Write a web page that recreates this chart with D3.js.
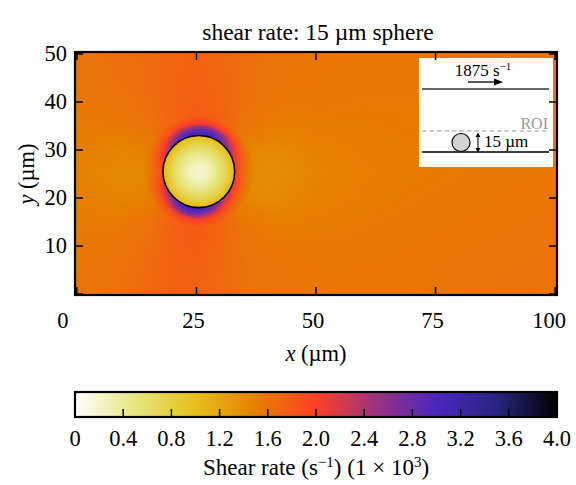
<!DOCTYPE html>
<html><head><meta charset="utf-8">
<script src="https://cdn.jsdelivr.net/npm/d3@7"></script>
<style>body{margin:0;background:#fff}svg text{font-family:"Liberation Serif","Times New Roman",serif;fill:#000}</style>
</head><body><svg id="c" width="576" height="485"></svg>
<script>
// ---- data ----
const xTicks = [0, 25, 50, 75, 100];
const yTicks = [10, 20, 30, 40, 50];
const cbTicks = [0, 0.4, 0.8, 1.2, 1.6, 2.0, 2.4, 2.8, 3.2, 3.6, 4.0];
const cbTickLabels = ["0","0.4","0.8","1.2","1.6","2.0","2.4","2.8","3.2","3.6","4.0"];
// CMRmap_r colormap nodes (value in 10^3 s^-1)
const cmapVals = [0, 0.5, 1.0, 1.5, 2.0, 2.5, 3.0, 3.5, 4.0];
const cmapCols = ["rgb(255,255,255)","rgb(230,230,128)","rgb(230,191,26)","rgb(230,128,0)","rgb(255,64,38)","rgb(153,51,128)","rgb(77,38,191)","rgb(38,38,128)","rgb(0,0,0)"];
// sphere (µm)
const sphereX = 25.5, sphereY = 25.5, sphereR = 7.5;
// background field: shear rate (10^3 s^-1) on grid
const bgX = [0,5,10,15,20,25,30,35,40,45,50,60,70,80,90,100];
const bgY = [50,45,40,35,30,25,20,15,10,5,0];
const bgV = [
 [1.61,1.62,1.64,1.67,1.71,1.73,1.70,1.65,1.61,1.59,1.58,1.57,1.57,1.57,1.57,1.57],
 [1.60,1.61,1.63,1.67,1.72,1.74,1.71,1.65,1.60,1.58,1.57,1.56,1.56,1.56,1.56,1.56],
 [1.58,1.58,1.60,1.65,1.72,1.76,1.72,1.64,1.58,1.56,1.56,1.55,1.55,1.56,1.56,1.56],
 [1.55,1.55,1.56,1.61,1.72,1.80,1.74,1.60,1.53,1.52,1.54,1.54,1.55,1.55,1.56,1.56],
 [1.52,1.49,1.47,1.51,1.62,1.75,1.62,1.48,1.44,1.46,1.50,1.53,1.54,1.55,1.56,1.56],
 [1.50,1.46,1.44,1.45,1.55,1.60,1.55,1.44,1.41,1.43,1.48,1.52,1.54,1.55,1.56,1.57],
 [1.52,1.49,1.47,1.50,1.62,1.75,1.62,1.47,1.43,1.46,1.50,1.53,1.55,1.56,1.57,1.58],
 [1.55,1.54,1.55,1.61,1.74,1.80,1.72,1.57,1.52,1.52,1.53,1.55,1.56,1.57,1.58,1.59],
 [1.57,1.57,1.59,1.65,1.75,1.77,1.70,1.61,1.57,1.56,1.56,1.56,1.57,1.58,1.59,1.60],
 [1.58,1.59,1.62,1.68,1.74,1.75,1.69,1.62,1.59,1.58,1.57,1.57,1.58,1.59,1.60,1.60],
 [1.59,1.60,1.63,1.69,1.74,1.74,1.68,1.62,1.60,1.59,1.58,1.58,1.58,1.59,1.60,1.60]
];
// inside sphere: radial profile
const inR = [0, 1, 2, 3, 4, 5, 6, 7, 7.5];
const inV = [0.20, 0.22, 0.28, 0.38, 0.50, 0.64, 0.80, 0.98, 1.08];
// halo just outside sphere: angle (deg, CCW from +x) x distance from surface (µm)
const ringA = [0,15,30,45,60,75,90,105,120,135,150,165,180,195,210,225,240,255,270,285,300,315,330,345];
const ringD = [0, 0.75, 1.5, 2.5];
const ringFade = 4.0;
const ringV = [
 [2.00,1.88,1.75,1.60],[2.10,1.98,1.85,1.68],[2.35,2.20,2.00,1.78],[2.70,2.50,2.25,1.88],
 [3.00,2.85,2.50,1.98],[3.15,3.00,2.70,2.05],[3.15,3.00,2.70,2.05],[3.10,2.95,2.60,2.02],
 [2.95,2.75,2.40,1.95],[2.65,2.45,2.15,1.85],[2.30,2.12,1.95,1.75],[2.05,1.92,1.80,1.65],
 [1.95,1.85,1.72,1.58],[2.05,1.92,1.80,1.65],[2.35,2.18,1.98,1.76],[2.70,2.50,2.22,1.86],
 [3.00,2.85,2.50,1.98],[3.15,3.00,2.70,2.05],[3.12,2.98,2.65,2.03],[2.95,2.78,2.42,1.95],
 [2.65,2.45,2.15,1.85],[2.35,2.15,1.95,1.75],[2.15,2.00,1.85,1.68],[2.05,1.92,1.80,1.62]
];

// ---- layout ----
const L = 75, R = 557, T = 52, B = 295;
const x = d3.scaleLinear().domain([-0.4, 100.4]).range([L, R]);
const y = d3.scaleLinear().domain([-0.2, 50.4]).range([B, T]);
const color = d3.scaleLinear().domain(cmapVals).range(cmapCols).interpolate(d3.interpolateRgb).clamp(true);
const svg = d3.select("#c");
svg.append("rect").attr("width",576).attr("height",485).attr("fill","#fff");

// ---- field rendering (piecewise-linear reading of the grids) ----
function lin(arr, v) {
  if (v <= arr[0]) return [0, 0];
  for (let i = 0; i < arr.length - 1; i++) if (v <= arr[i+1]) return [i, (v-arr[i])/(arr[i+1]-arr[i])];
  return [arr.length-2, 1];
}
const bgYasc = bgY.slice().reverse();
const bgVasc = bgV.slice().reverse();
function bgAt(ux, uy) {
  const [i, tx] = lin(bgX, ux), [j, ty] = lin(bgYasc, uy);
  const a = bgVasc[j][i], b = bgVasc[j][i+1], c = bgVasc[j+1][i], d = bgVasc[j+1][i+1];
  return (a*(1-tx)+b*tx)*(1-ty) + (c*(1-tx)+d*tx)*ty;
}
function ringAt(ang, dd) {
  const n = ringA.length, step = 360/n;
  const i0 = Math.floor(ang/step) % n, i1 = (i0+1) % n, ta = ang/step - Math.floor(ang/step);
  const [k, td] = lin(ringD, dd);
  const v0 = ringV[i0][k]*(1-td) + ringV[i0][k+1]*td;
  const v1 = ringV[i1][k]*(1-td) + ringV[i1][k+1]*td;
  return v0*(1-ta) + v1*ta;
}
const W = R - L, H = B - T;
const cv = document.createElement("canvas"); cv.width = W; cv.height = H;
const ctx = cv.getContext("2d");
const img = ctx.createImageData(W, H);
const rgbCache = new Map();
for (let j = 0; j < H; j++) {
  for (let i = 0; i < W; i++) {
    const ux = x.invert(L + i + 0.5), uy = y.invert(T + j + 0.5);
    const dx = ux - sphereX, dy = uy - sphereY, r = Math.hypot(dx, dy);
    let v;
    if (r < sphereR) {
      const [k, t] = lin(inR, r); v = inV[k]*(1-t) + inV[k+1]*t;
    } else {
      const dd = r - sphereR;
      let ang = Math.atan2(dy, dx) * 180 / Math.PI; if (ang < 0) ang += 360;
      if (dd <= ringD[ringD.length-1]) v = ringAt(ang, dd);
      else if (dd < ringFade) {
        const t = (dd - ringD[ringD.length-1]) / (ringFade - ringD[ringD.length-1]);
        v = ringAt(ang, ringD[ringD.length-1])*(1-t) + bgAt(ux, uy)*t;
      } else v = bgAt(ux, uy);
    }
    const key = Math.round(v*500);
    let c = rgbCache.get(key);
    if (!c) { c = d3.rgb(color(key/500)); rgbCache.set(key, c); }
    const p = (j*W + i)*4;
    img.data[p] = c.r; img.data[p+1] = c.g; img.data[p+2] = c.b; img.data[p+3] = 255;
  }
}
ctx.putImageData(img, 0, 0);
svg.append("image").attr("x", L).attr("y", T).attr("width", W).attr("height", H)
  .attr("href", cv.toDataURL());

// sphere outline
svg.append("ellipse").attr("cx", x(sphereX)).attr("cy", y(sphereY))
  .attr("rx", x(sphereX+sphereR)-x(sphereX)).attr("ry", y(sphereY)-y(sphereY+sphereR))
  .attr("fill","none").attr("stroke","#000").attr("stroke-width",1.6);

// ---- inset schematic ----
const ins = svg.append("g");
ins.append("rect").attr("x",419).attr("y",58).attr("width",134).attr("height",109).attr("fill","#fff");
ins.append("line").attr("x1",422).attr("x2",549).attr("y1",89).attr("y2",89).attr("stroke","#333").attr("stroke-width",1.3);
ins.append("line").attr("x1",422).attr("x2",549).attr("y1",152).attr("y2",152).attr("stroke","#000").attr("stroke-width",1.3);
ins.append("line").attr("x1",422).attr("x2",549).attr("y1",131).attr("y2",131).attr("stroke","#999").attr("stroke-width",1.2).attr("stroke-dasharray","4.5,3");
const t1 = ins.append("text").attr("x",483).attr("y",76).attr("text-anchor","middle").style("font-size","17px");
t1.append("tspan").text("1875 s");
t1.append("tspan").attr("dy",-6).style("font-size","11px").text("\u22121");
ins.append("line").attr("x1",468).attr("x2",495).attr("y1",82).attr("y2",82).attr("stroke","#000").attr("stroke-width",1.3);
ins.append("path").attr("d","M494,78.5 L503,82 L494,85.5 Z").attr("fill","#000");
ins.append("text").attr("x",548).attr("y",129).attr("text-anchor","end").style("font-size","16px").style("fill","#999").text("ROI");
ins.append("circle").attr("cx",461).attr("cy",142.5).attr("r",9).attr("fill","#d3d3d3").attr("stroke","#000").attr("stroke-width",1.2);
ins.append("line").attr("x1",478).attr("x2",478).attr("y1",135).attr("y2",150).attr("stroke","#000").attr("stroke-width",1.1);
ins.append("path").attr("d","M475.5,137 L478,132.5 L480.5,137 Z M475.5,148 L478,152.5 L480.5,148 Z").attr("fill","#000");
ins.append("text").attr("x",484).attr("y",147).style("font-size","17px").text("15 \u00b5m");

// ---- frame & ticks ----
const tk = 8;
const axg = svg.append("g").attr("stroke","#000").attr("stroke-width",1.5);
xTicks.forEach(v => {
  axg.append("line").attr("x1",x(v)).attr("x2",x(v)).attr("y1",B).attr("y2",B-tk);
  axg.append("line").attr("x1",x(v)).attr("x2",x(v)).attr("y1",T).attr("y2",T+tk);
});
yTicks.concat([0]).forEach(v => {
  axg.append("line").attr("x1",L).attr("x2",L+tk).attr("y1",y(v)).attr("y2",y(v));
  axg.append("line").attr("x1",R).attr("x2",R-tk).attr("y1",y(v)).attr("y2",y(v));
});
svg.append("rect").attr("x",L).attr("y",T).attr("width",W).attr("height",H)
  .attr("fill","none").attr("stroke","#000").attr("stroke-width",2.2);

const fs = "22.5px";
xTicks.forEach((v, i) => {
  const dx = i === 0 ? -14 : (i === xTicks.length-1 ? -6 : -3);
  svg.append("text").attr("x", x(v)+dx).attr("y", 328).attr("text-anchor","middle").style("font-size",fs).text(v);
});
yTicks.forEach(v => {
  svg.append("text").attr("x", 67).attr("y", y(v)).attr("dy","0.33em").attr("text-anchor","end").style("font-size",fs).text(v);
});
const xl = svg.append("text").attr("x", 316).attr("y", 361).attr("text-anchor","middle").style("font-size",fs);
xl.append("tspan").style("font-style","italic").text("x");
xl.append("tspan").text(" (\u00b5m)");
const yl = svg.append("text").attr("transform","translate(34,174) rotate(-90)").attr("text-anchor","middle").style("font-size",fs);
yl.append("tspan").style("font-style","italic").text("y");
yl.append("tspan").text(" (\u00b5m)");
svg.append("text").attr("x",318).attr("y",40).attr("text-anchor","middle").style("font-size","23.5px").text("shear rate: 15 \u00b5m sphere");

// ---- colorbar ----
const cbT = 392, cbB = 417;
const cx = d3.scaleLinear().domain([0, 4]).range([L, R]);
const grad = svg.append("defs").append("linearGradient").attr("id","cmap").attr("x1","0%").attr("x2","100%");
cmapVals.forEach((v, i) => grad.append("stop").attr("offset", (v/4*100)+"%").attr("stop-color", cmapCols[i]));
svg.append("rect").attr("x",L).attr("y",cbT).attr("width",R-L).attr("height",cbB-cbT).attr("fill","url(#cmap)");
cbTicks.forEach(v => svg.append("line").attr("x1",cx(v)).attr("x2",cx(v)).attr("y1",cbB).attr("y2",cbB-8).attr("stroke","#000").attr("stroke-width",1.5));
svg.append("rect").attr("x",L).attr("y",cbT).attr("width",R-L).attr("height",cbB-cbT).attr("fill","none").attr("stroke","#000").attr("stroke-width",2.2);
cbTicks.forEach((v, i) => svg.append("text").attr("x",cx(v)).attr("y",446).attr("text-anchor","middle").style("font-size",fs).text(cbTickLabels[i]));
const cl = svg.append("text").attr("x",316).attr("y",475).attr("text-anchor","middle").style("font-size","23px");
cl.append("tspan").text("Shear rate (s");
cl.append("tspan").attr("dy",-8).style("font-size","15px").text("\u22121");
cl.append("tspan").attr("dy",8).text(") (1 \u00d7 10");
cl.append("tspan").attr("dy",-8).style("font-size","15px").text("3");
cl.append("tspan").attr("dy",8).text(")");
</script></body></html>
